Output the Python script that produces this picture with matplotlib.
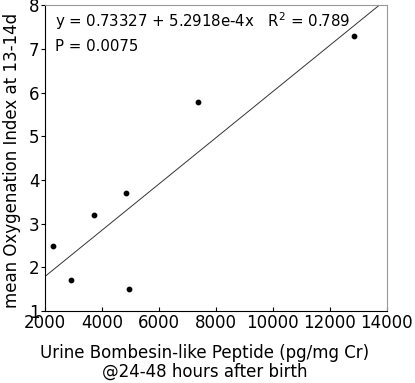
import matplotlib
matplotlib.use("Agg")
import matplotlib.pyplot as plt
import numpy as np

bombesin = [2290, 2920, 3730, 4860, 4940, 7370, 12850]
oxygenation = [2.5, 1.7, 3.2, 3.7, 1.5, 5.8, 7.3]
intercept = 0.73327
slope = 5.2918e-4
x_ticks = [2000, 4000, 6000, 8000, 10000, 12000, 14000]
y_ticks = [1, 2, 3, 4, 5, 6, 7, 8]

plt.rcParams['font.family'] = ['DejaVu Sans']
fig = plt.figure(figsize=(4.15, 3.83), dpi=100)
ax = fig.add_axes([45/415, 1 - 311/383, (386.5-45)/415, (311-5.5)/383])

xl = np.array([2000, 14000])
ax.plot(xl, intercept + slope*xl, color='#333333', lw=0.7)
ax.scatter(bombesin, oxygenation, s=10, color='black', zorder=3)

ax.set_xlim(2000, 14000)
ax.set_ylim(1, 8)
ax.set_xticks(x_ticks)
ax.set_yticks(y_ticks)
ax.tick_params(labelsize=12, length=3, width=0.8, pad=1)
ax.tick_params(axis='x', direction='in', pad=2)
for s in ['top', 'right']:
    ax.spines[s].set_color('#999999')
for s in ['left', 'bottom']:
    ax.spines[s].set_color('black')
for s in ax.spines.values():
    s.set_linewidth(0.8)

ax.text(0.03, 0.95, "y = 0.73327 + 5.2918e-4x   R$^2$ = 0.789", transform=ax.transAxes,
        fontsize=10.8, va='center', ha='left')
ax.text(0.03, 0.865, "P = 0.0075", transform=ax.transAxes,
        fontsize=10.8, va='center', ha='left')

fig.text(205/415, 1 - 353/383, "Urine Bombesin-like Peptide (pg/mg Cr)", fontsize=12,
         ha='center', va='center')
fig.text(205/415, 1 - 372/383, "@24-48 hours after birth", fontsize=12,
         ha='center', va='center')
fig.text(12/415, 1 - 160/383, "mean Oxygenation Index at 13-14d", fontsize=12,
         ha='center', va='center', rotation=90)

fig.savefig("out.png", dpi=100)
